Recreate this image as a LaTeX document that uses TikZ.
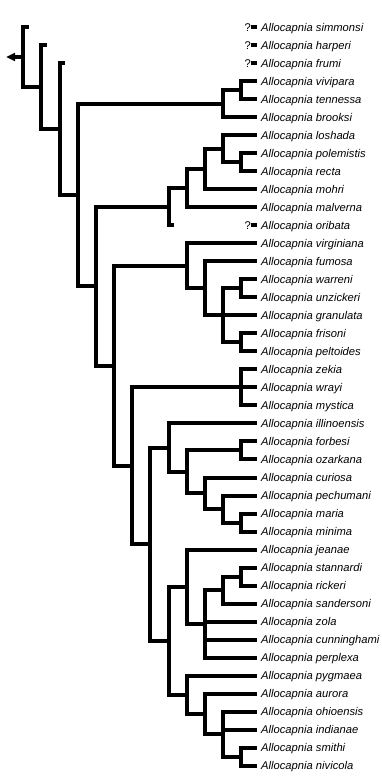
\documentclass[tikz,border=0pt]{standalone}
\usepackage{fontspec}
\setmainfont{Liberation Sans}
\usetikzlibrary{calc,arrows.meta}

% clade node: name, depth level, first child, last child
\newcommand{\clade}[4]{%
  \path let \p1=($(#3)!.5!(#4)$), \n1={23.3+18.17*#2} in (\n1pt,\y1) coordinate (#1);}

\begin{document}
\begin{tikzpicture}[x=1pt, y=-1pt,
    branch/.style={line width=4pt},
    leaf/.style={anchor=west, inner xsep=3.7pt, inner ysep=0pt, text height=8pt, text depth=0pt,
                 font=\fontsize{11.2}{13}\selectfont\itshape},
    qmark/.style={anchor=east, inner sep=0pt, text height=8pt, text depth=0pt,
                 font=\fontsize{11.2}{13}\selectfont}]
        \useasboundingbox (0,0) rectangle (381,777);
        % species
        \foreach \sp [count=\i from 0] in {simmonsi,harperi,frumi,vivipara,tennessa,brooksi,
                loshada,polemistis,recta,mohri,malverna,oribata,virginiana,fumosa,warreni,
                unzickeri,granulata,frisoni,peltoides,zekia,wrayi,mystica,illinoensis,forbesi,
                ozarkana,curiosa,pechumani,maria,minima,jeanae,stannardi,rickeri,sandersoni,
                zola,cunninghami,perplexa,pygmaea,aurora,ohioensis,indianae,smithi,nivicola} {
            \node[leaf] (\sp) at (257.3,{27+18.02*\i}) {Allocapnia \sp};
        }
        % uncertain placement
        \foreach \sp in {simmonsi,harperi,frumi,oribata} {
            \path (\sp.west) ++(-6.3,0) node[qmark] (q-\sp) {?};
            \draw[branch] (q-\sp.east) -- (\sp.west);
        }
        % clades
        \clade{vt}{12}{vivipara}{tennessa}
        \clade{v}{11}{vt}{brooksi}
        \clade{d}{12}{polemistis}{recta}
        \clade{c}{11}{loshada}{d}
        \clade{b}{10}{c}{mohri}
        \clade{a}{9}{b}{malverna}
        \clade{lo}{8}{a}{oribata}
        \clade{wu}{12}{warreni}{unzickeri}
        \clade{fp}{12}{frisoni}{peltoides}
        \clade{t}{11}{wu}{fp}
        \clade{fu}{10}{fumosa}{t}
        \clade{e}{9}{virginiana}{fu}
        \clade{z}{12}{zekia}{mystica}
        \clade{fo}{12}{forbesi}{ozarkana}
        \clade{mm}{12}{maria}{minima}
        \clade{f4}{11}{pechumani}{mm}
        \clade{f3}{10}{curiosa}{f4}
        \clade{f2}{9}{fo}{f3}
        \clade{f}{8}{illinoensis}{f2}
        \clade{sr}{12}{stannardi}{rickeri}
        \clade{ss}{11}{sr}{sandersoni}
        \clade{g1b}{10}{ss}{perplexa}
        \clade{g1}{9}{jeanae}{g1b}
        \clade{sn}{12}{smithi}{nivicola}
        \clade{g2c}{11}{ohioensis}{sn}
        \clade{g2b}{10}{aurora}{g2c}
        \clade{g2}{9}{pygmaea}{g2b}
        \clade{g}{8}{g1}{g2}
        \clade{n8}{7}{f}{g}
        \clade{n7}{6}{z}{n8}
        \clade{n6}{5}{e}{n7}
        \clade{n5}{4}{lo}{n6}
        \clade{n4}{3}{v}{n5}
        \clade{n3}{2}{frumi}{n4}
        \clade{n2}{1}{harperi}{n3}
        \clade{n1}{0}{simmonsi}{n2}
        \foreach \up/\sp in {n1/simmonsi, n2/harperi, n3/frumi, lo/oribata} {
            \path (\up |- \sp) ++(5.4,0) coordinate (s-\sp);
        }
        % branches
        \foreach \up/\dn in {n1/s-simmonsi, n1/n2, n2/s-harperi, n2/n3, n3/s-frumi, n3/n4,
                n4/v, n4/n5, v/vt, v/brooksi.west, vt/vivipara.west, vt/tennessa.west,
                n5/lo, n5/n6, lo/a, lo/s-oribata, a/b, a/malverna.west, b/c, b/mohri.west,
                c/loshada.west, c/d, d/polemistis.west, d/recta.west,
                n6/e, n6/n7, e/virginiana.west, e/fu, fu/fumosa.west, fu/t,
                t/wu, t/granulata.west, t/fp, wu/warreni.west, wu/unzickeri.west,
                fp/frisoni.west, fp/peltoides.west,
                n7/z, n7/n8, z/zekia.west, z/wrayi.west, z/mystica.west,
                n8/f, n8/g, f/illinoensis.west, f/f2, f2/fo, f2/f3,
                fo/forbesi.west, fo/ozarkana.west, f3/curiosa.west, f3/f4,
                f4/pechumani.west, f4/mm, mm/maria.west, mm/minima.west,
                g/g1, g/g2, g1/jeanae.west, g1/g1b,
                g1b/ss, g1b/zola.west, g1b/cunninghami.west, g1b/perplexa.west,
                ss/sr, ss/sandersoni.west, sr/stannardi.west, sr/rickeri.west,
                g2/pygmaea.west, g2/g2b, g2b/aurora.west, g2b/g2c,
                g2c/ohioensis.west, g2c/indianae.west, g2c/sn,
                sn/smithi.west, sn/nivicola.west} {
            \draw[branch] (\up) |- (\dn);
        }
        % root
        \coordinate (tip) at ($(n1)+(-17.3,0)$);
        \draw[line width=3.3pt, -{Triangle[length=9pt,width=8pt]}] (n1) -- (tip);
\end{tikzpicture}
\end{document}
